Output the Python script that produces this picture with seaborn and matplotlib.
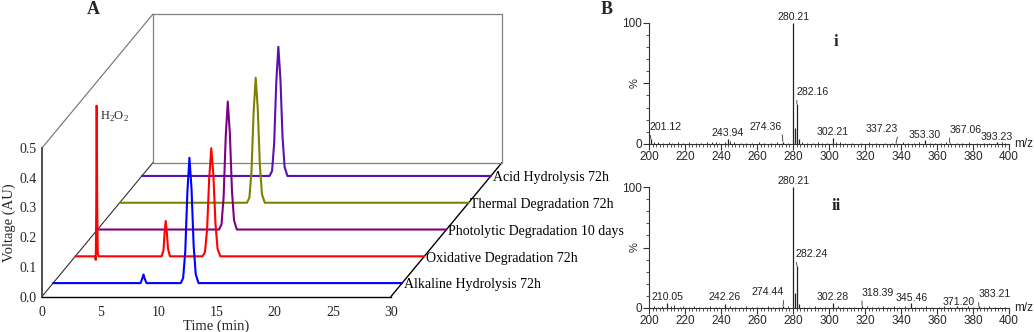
import matplotlib
matplotlib.use("Agg")
import matplotlib.pyplot as plt
import matplotlib.transforms as mtransforms
from matplotlib.ticker import MultipleLocator, FixedLocator
import pandas as pd
import seaborn as sns

# ---------------- chromatograms (time in min, response in AU) ----------------
alkaline_t = [0, 7.52, 7.66, 7.77, 7.88, 8.03,
              10.97, 11.18, 11.36, 11.54, 11.72, 11.90, 12.08, 12.26, 12.50, 30]
alkaline_v = [0, 0, 0.015, 0.029, 0.014, 0,
              0, 0.017, 0.105, 0.304, 0.422, 0.317, 0.127, 0.030, 0, 0]

oxidative_t = [0, 1.70, 1.76, 1.80, 1.83, 1.85, 1.88, 1.93, 2.00,
               7.42, 7.58, 7.67, 7.77, 7.87, 7.97, 8.14,
               10.94, 11.15, 11.33, 11.51, 11.69, 11.87, 12.05, 12.23, 12.47, 30]
oxidative_v = [0, 0, -0.012, 0.150, 0.507, 0.500, 0.180, 0.010, 0,
               0, 0.020, 0.075, 0.119, 0.080, 0.025, 0,
               0, 0.015, 0.091, 0.262, 0.364, 0.273, 0.109, 0.025, 0, 0]

photolytic_t = [0, 10.45, 10.66, 10.84, 11.02, 11.20, 11.38, 11.56, 11.74, 11.98, 30]
photolytic_v = [0, 0, 0.017, 0.108, 0.310, 0.431, 0.323, 0.129, 0.030, 0, 0]

thermal_t = [0, 10.94, 11.15, 11.33, 11.51, 11.69, 11.87, 12.05, 12.23, 12.47, 30]
thermal_v = [0, 0, 0.017, 0.105, 0.303, 0.421, 0.316, 0.126, 0.029, 0, 0]

acid_t = [0, 10.98, 11.19, 11.37, 11.55, 11.73, 11.91, 12.09, 12.27, 12.51, 30]
acid_v = [0, 0, 0.017, 0.109, 0.313, 0.435, 0.326, 0.131, 0.030, 0, 0]

conditions = ["Alkaline Hydrolysis 72h", "Oxidative Degradation 72h",
              "Photolytic Degradation 10 days", "Thermal Degradation 72h",
              "Acid Hydrolysis 72h"]
trace_colors = ["#0000FF", "#FF0000", "#800080", "#808000", "#5A10B4"]

time_ticks = [0, 5, 10, 15, 20, 25, 30]
volt_ticks = [0.0, 0.1, 0.2, 0.3, 0.4, 0.5]

# ---------------- mass spectra (m/z, relative intensity %) ----------------
peaks_i_mz = [201.12, 243.94, 274.36, 280.21, 281.20, 282.16, 283.20,
              302.21, 337.23, 353.30, 367.06, 393.23]
peaks_i_int = [4.0, 3.9, 2.0, 100.0, 13.0, 33.0, 4.0,
               5.0, 1.0, 3.0, 1.0, 1.5]
labels_i = [201.12, 243.94, 274.36, 280.21, 282.16, 302.21,
            337.23, 353.30, 367.06, 393.23]
noise_i_mz = [203, 205, 208, 211, 213, 216, 219, 222, 226, 229, 232, 235, 237,
              239, 242, 245, 247, 251, 254, 257, 261, 264, 268, 271, 277, 285,
              288, 291, 294, 296, 299, 304, 306, 309, 313, 318, 322, 326, 331,
              335, 341, 344, 347, 350, 356, 359, 362, 365, 371, 374, 378, 382,
              386, 389, 396, 398]
noise_i_int = [1.5, 2.0, 1.0, 1.5, 1.2, 2.0, 1.0, 1.5, 1.0, 1.2, 1.5, 2.0, 1.5,
               1.0, 2.0, 2.5, 1.5, 1.0, 1.2, 1.0, 1.5, 1.0, 1.2, 1.5, 1.0, 1.5,
               1.0, 1.2, 1.5, 1.0, 1.2, 2.0, 1.5, 1.0, 1.2, 1.0, 1.5, 1.0, 1.2,
               1.0, 1.5, 1.2, 1.0, 1.5, 1.0, 1.2, 1.0, 1.5, 1.0, 1.2, 1.5, 1.0,
               1.2, 1.0, 1.5, 1.0]

peaks_ii_mz = [210.05, 242.26, 274.44, 280.21, 281.20, 282.24, 283.20,
               302.28, 318.39, 345.46, 371.20, 383.21]
peaks_ii_int = [4.0, 3.0, 1.5, 100.0, 12.0, 34.7, 3.0,
                4.0, 2.0, 4.0, 1.5, 1.5]
labels_ii = [210.05, 242.26, 274.44, 280.21, 282.24, 302.28,
             318.39, 345.46, 371.20, 383.21]
noise_ii_mz = [203, 205, 207, 212, 214, 217, 219, 222, 225, 228, 231, 234, 237,
               239, 245, 248, 251, 254, 257, 260, 263, 266, 269, 272, 277, 286,
               289, 292, 295, 298, 305, 308, 311, 314, 321, 324, 327, 330, 333,
               336, 339, 342, 348, 351, 354, 357, 361, 364, 367, 374, 377, 380,
               386, 389, 392, 395, 398]
noise_ii_int = [1.5, 1.0, 2.0, 1.5, 2.5, 1.2, 1.5, 1.0, 1.5, 1.2, 1.0, 1.5, 1.2,
                1.0, 1.5, 1.0, 1.2, 1.5, 1.0, 1.2, 1.0, 1.5, 1.2, 1.0, 1.5, 1.2,
                1.0, 1.5, 1.2, 1.0, 1.5, 1.0, 1.2, 1.0, 1.5, 1.2, 1.0, 2.0, 1.2,
                2.0, 1.0, 1.5, 1.2, 1.0, 2.0, 1.2, 1.0, 1.5, 1.2, 1.0, 1.5, 1.2,
                1.0, 1.5, 1.2, 1.0, 1.2]

mz_ticks = [200, 220, 240, 260, 280, 300, 320, 340, 360, 380, 400]

# ---------------- layout ----------------
W, H = 1034, 332
depth = (0.318, 0.902)          # oblique depth vector, in front-axes fraction
tag_shift_i = [(15, 12), (0, 6), (-17, 15), (0, 6), (16, 12), (0, 6),
               (-14, 14), (0, 5), (16, 13), (0, 5)]
tag_shift_ii = [(0, 6), (0, 7), (-15, 14), (0, 6), (15, 12), (0, 6),
                (16, 13), (1, 5), (1, 4), (16, 12)]

sns.set_style("white")
plt.rcParams["font.family"] = ["Liberation Serif", "DejaVu Serif"]
plt.rcParams["axes.linewidth"] = 1.0

fig = plt.figure(figsize=(W / 100, H / 100), dpi=100)

# ---------------- panel A: stacked chromatograms ----------------
axA = fig.add_axes([42 / W, (H - 296.5) / H, 349 / W, 148.5 / H])
axA.set_xlim(0, 30)
axA.set_ylim(0, 0.5)

series = [(alkaline_t, alkaline_v), (oxidative_t, oxidative_v),
          (photolytic_t, photolytic_v), (thermal_t, thermal_v),
          (acid_t, acid_v)]

# frame of the pseudo-3D box
box_kw = dict(transform=axA.transAxes, clip_on=False, zorder=0.5)
dx, dy = depth
axA.plot([0, dx], [1, 1 + dy], color="#707070", lw=0.8, **box_kw)
axA.plot([0, dx], [0, dy], color="#303030", lw=0.8, **box_kw)
axA.plot([1, 1 + dx], [0, dy], color="black", lw=1.0, **box_kw)
axA.plot([dx, dx, 1 + dx, 1 + dx, dx], [dy, 1 + dy, 1 + dy, dy, dy],
         color="#808080", lw=0.9, **box_kw)

trace_transforms = []
for k, ((t, v), name, col) in enumerate(zip(series, conditions, trace_colors)):
    frac = (k + 0.5) / len(series)
    shift = mtransforms.Affine2D().translate(dx * frac, dy * frac)
    trans = axA.transScale + axA.transLimits + shift + axA.transAxes
    trace_transforms.append(trans)
    df = pd.DataFrame({"time": t, "signal": v})
    sns.lineplot(data=df, x="time", y="signal", ax=axA, color=col, lw=1.5,
                 estimator=None, sort=False, transform=trans, clip_on=False,
                 zorder=2 + (len(series) - k))
    axA.text(30.15, -0.006, name, transform=trans, ha="left", va="center",
             fontsize=10, color="black", zorder=10)

axA.text(2.1, 0.47, r"H$_\mathregular{2}$O$_\mathregular{2}$",
         transform=trace_transforms[1], ha="left", va="center", fontsize=9)

axA.set_xlim(0, 30)
axA.set_ylim(0, 0.5)
axA.set_xticks(time_ticks)
axA.set_yticks(volt_ticks)
axA.set_yticklabels([f"{v:.1f}" for v in volt_ticks])
axA.tick_params(axis="both", length=0, labelsize=10)
axA.tick_params(axis="x", pad=7)
axA.tick_params(axis="y", pad=4)
axA.set_xlabel("Time (min)", fontsize=10.5, labelpad=0)
axA.set_ylabel("Voltage (AU)", fontsize=10.5, labelpad=2)
for side in ("top", "right"):
    axA.spines[side].set_visible(False)
axA.spines["left"].set_color("#404040")
axA.spines["left"].set_linewidth(1.3)
axA.spines["bottom"].set_color("black")
axA.spines["bottom"].set_linewidth(1.0)
axA.patch.set_alpha(0)

fig.text(93 / W, 1 - 10 / H, "A", ha="center", va="center",
         fontsize=13, fontweight="bold")
fig.text(607 / W, 1 - 10 / H, "B", ha="center", va="center",
         fontsize=13, fontweight="bold")


# ---------------- panel B: mass spectra ----------------
def draw_spectrum(ax, mz, inten, noise_mz, noise_int, labels, shifts, tag):
    sans = "Liberation Sans"
    ax.vlines(noise_mz, 0, noise_int, color="#333333", lw=0.7)
    ax.vlines(mz, 0, inten, color="#222222", lw=0.9)
    ax.set_xlim(200, 400)
    ax.set_ylim(0, 100)
    lookup = dict(zip(mz, inten))
    for lab, (ox, oy) in zip(labels, shifts):
        h = lookup[lab]
        arrow = None
        if abs(ox) > 5:
            arrow = dict(arrowstyle="-", lw=0.6, color="#333333",
                         shrinkA=0, shrinkB=0,
                         relpos=(0.0, 0.0) if ox > 0 else (1.0, 0.0))
        ax.annotate(f"{lab:.2f}", xy=(lab, h), xytext=(ox, oy),
                    textcoords="offset pixels", ha="center", va="center",
                    fontsize=7.6, family=sans, color="#222222",
                    arrowprops=arrow, annotation_clip=False)
    ax.set_xticks(mz_ticks)
    ax.xaxis.set_minor_locator(MultipleLocator(2))
    ax.yaxis.set_major_locator(FixedLocator([0, 50, 100]))
    ax.set_yticklabels(["0", "", "100"])
    ax.yaxis.set_minor_locator(MultipleLocator(10))
    ax.tick_params(axis="both", which="major", direction="out", length=4,
                   width=0.8, color="#333333", labelsize=8.5, pad=1)
    ax.tick_params(axis="both", which="minor", direction="out", length=2.2,
                   width=0.6, color="#333333")
    ax.tick_params(axis="both", which="both", bottom=True, left=True)
    for lbl in ax.get_xticklabels() + ax.get_yticklabels():
        lbl.set_family(sans)
    ax.text(-0.04, 0.5, "%", transform=ax.transAxes, rotation=90,
            ha="center", va="center", family=sans, fontsize=8)
    ax.text(1.015, 0, "m/z", transform=ax.transAxes, ha="left", va="center",
            family=sans, fontsize=8.5)
    ax.text(0.52, 0.84, tag, transform=ax.transAxes, ha="center", va="center",
            fontsize=12, fontweight="bold")
    for side in ("top", "right"):
        ax.spines[side].set_visible(False)
    for side in ("left", "bottom"):
        ax.spines[side].set_color("#333333")
        ax.spines[side].set_linewidth(0.8)
    ax.patch.set_alpha(0)


axB1 = fig.add_axes([649 / W, (H - 144) / H, 360 / W, 121.3 / H])
draw_spectrum(axB1, peaks_i_mz, peaks_i_int, noise_i_mz, noise_i_int,
              labels_i, tag_shift_i, "i")

axB2 = fig.add_axes([649 / W, (H - 308) / H, 360 / W, 121 / H])
draw_spectrum(axB2, peaks_ii_mz, peaks_ii_int, noise_ii_mz, noise_ii_int,
              labels_ii, tag_shift_ii, "ii")

fig.savefig("out.png", dpi=100)
